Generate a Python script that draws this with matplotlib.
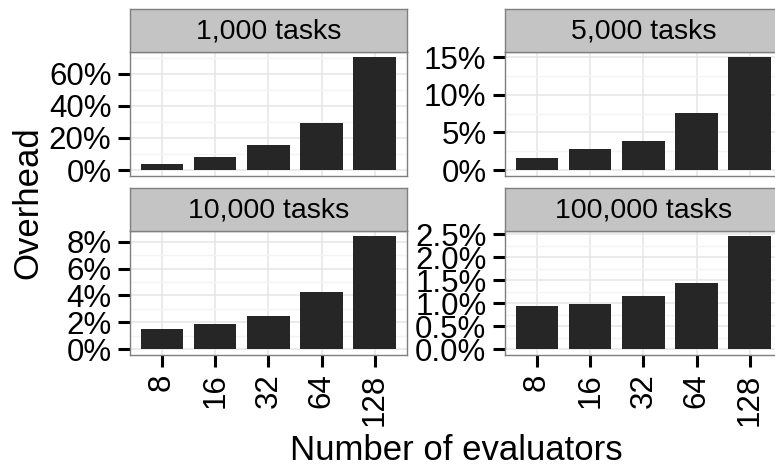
import matplotlib.pyplot as plt
from matplotlib.ticker import MultipleLocator, FuncFormatter

plt.rcParams['font.family'] = ['Liberation Sans', 'DejaVu Sans']

evaluators = ['8', '16', '32', '64', '128']
facet_titles = ['1,000 tasks', '5,000 tasks', '10,000 tasks', '100,000 tasks']
overhead_1k = [3.7, 8.2, 15.4, 29.3, 70.3]
overhead_5k = [1.57, 2.76, 3.9, 7.6, 15.0]
overhead_10k = [1.5, 1.89, 2.47, 4.27, 8.39]
overhead_100k = [0.94, 0.99, 1.15, 1.44, 2.45]
tick_steps = [20, 5, 2, 0.5]
tick_decimals = [0, 0, 0, 1]

W, H = 775, 470
PANEL_W = 276.7
STRIP_H = 43
col_left = [130, 505]
row_top = [51.7, 230.7]
row_bottom = [175.7, 355]

BAR_COLOR = '#262626'
BORDER = '#7f7f7f'


def pct_formatter(decimals):
    return FuncFormatter(lambda v, pos: f'{v:.{decimals}f}%')


fig = plt.figure(figsize=(W / 100, H / 100), dpi=100)

series = [overhead_1k, overhead_5k, overhead_10k, overhead_100k]
for i, values in enumerate(series):
    r, c = divmod(i, 2)
    left = col_left[c] / W
    bottom = 1 - row_bottom[r] / H
    height = (row_bottom[r] - row_top[r]) / H
    ax = fig.add_axes([left, bottom, PANEL_W / W, height])

    x = range(len(evaluators))
    ax.bar(x, values, width=0.8, color=BAR_COLOR, zorder=3)
    ymax = max(values)
    ax.set_ylim(-0.05 * ymax, 1.05 * ymax)
    ax.set_xlim(-0.6, len(evaluators) - 0.4)

    ax.yaxis.set_major_locator(MultipleLocator(tick_steps[i]))
    ax.yaxis.set_minor_locator(MultipleLocator(tick_steps[i] / 2))
    ax.yaxis.set_major_formatter(pct_formatter(tick_decimals[i]))
    ax.set_xticks(list(x))

    ax.grid(True, which='major', color='#e5e5e5', lw=1.1, zorder=0)
    ax.grid(True, which='minor', axis='y', color='#f4f4f4', lw=1.0, zorder=0)
    ax.set_axisbelow(True)

    ax.tick_params(axis='both', which='major', length=8.4, width=2.2,
                   color='black', labelsize=22.5, pad=5)
    ax.tick_params(axis='both', which='minor', length=0)
    if r == 0:
        ax.tick_params(axis='x', length=0, labelbottom=False)
    else:
        ax.set_xticklabels(evaluators, rotation=90)
    for sp in ax.spines.values():
        sp.set_color(BORDER)
        sp.set_linewidth(1.0)

    # facet strip above the panel
    strip = fig.add_axes([left, 1 - row_top[r] / H, PANEL_W / W, STRIP_H / H])
    strip.set_facecolor('#c4c4c4')
    strip.set_xticks([])
    strip.set_yticks([])
    for sp in strip.spines.values():
        sp.set_color(BORDER)
        sp.set_linewidth(1.0)
    strip.text(0.5, 0.48, facet_titles[i], ha='center', va='center',
               fontsize=20.5, transform=strip.transAxes)

fig.text(28 / W, 1 - 203 / H, 'Overhead', rotation=90, ha='center',
         va='center', fontsize=25)
fig.text(456 / W, 1 - 460 / H, 'Number of evaluators', ha='center',
         va='baseline', fontsize=25)

fig.savefig('out.png', dpi=100)
